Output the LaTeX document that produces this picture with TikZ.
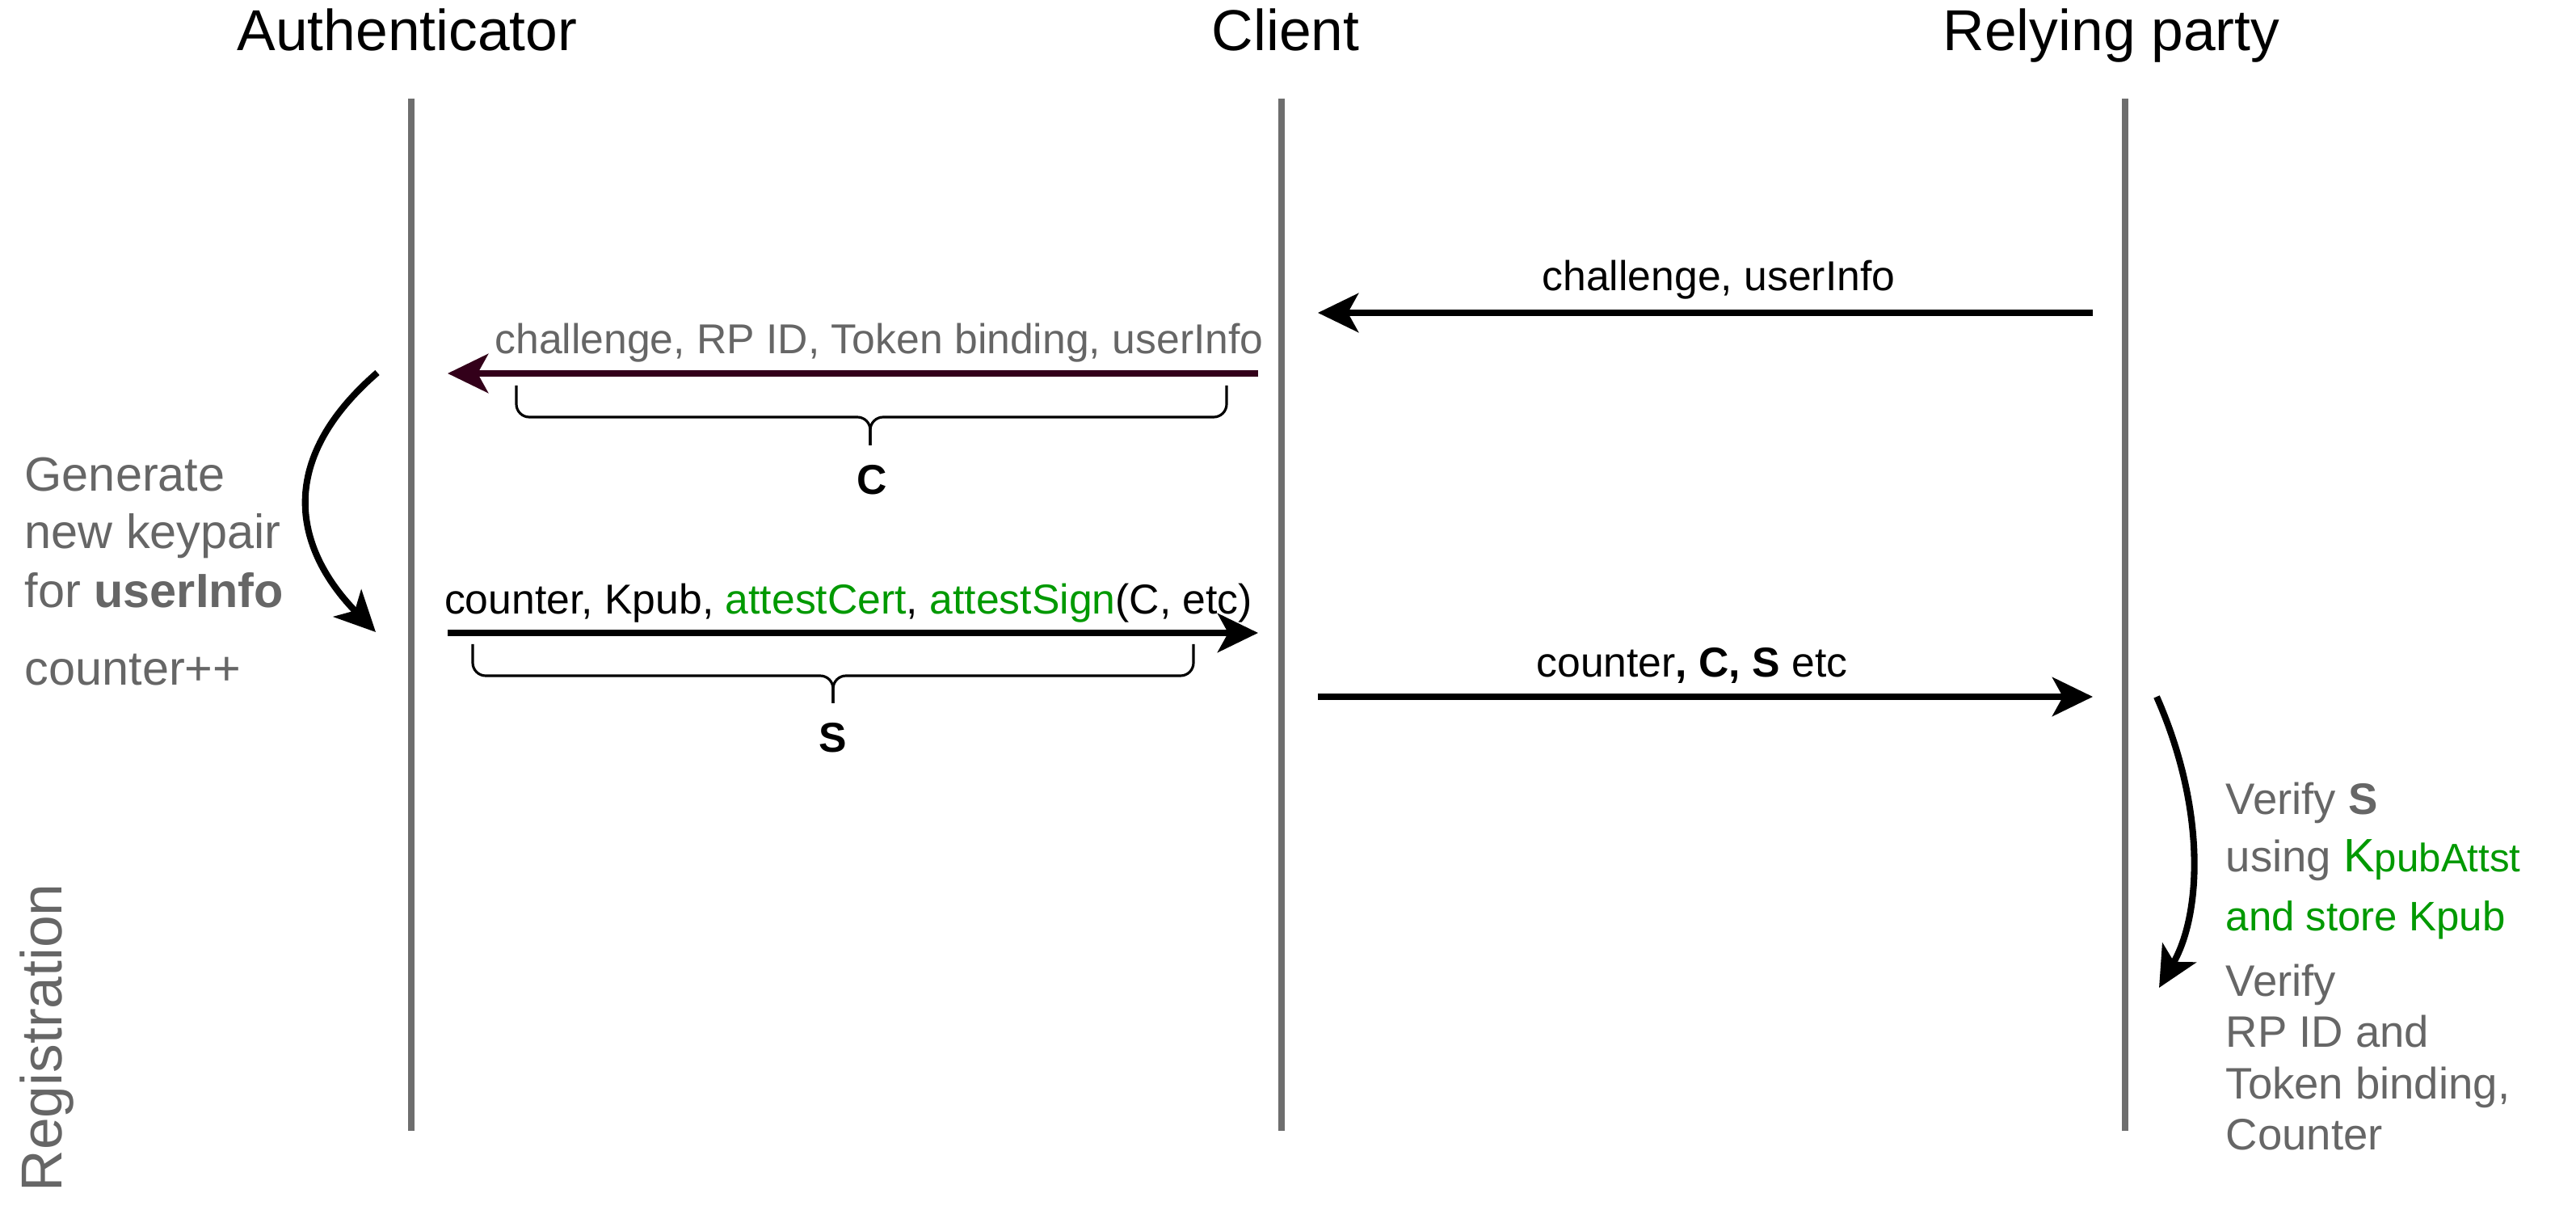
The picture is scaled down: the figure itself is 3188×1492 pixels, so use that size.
\documentclass[tikz,border=0pt]{standalone}
\usepackage{fontspec}
\setmainfont{Liberation Sans}
\usepackage{tikz}
\usetikzlibrary{positioning,arrows.meta}
\definecolor{noteGray}{HTML}{666666}
\definecolor{lineGray}{HTML}{6E6E6E}
\definecolor{attGreen}{HTML}{009900}
\definecolor{darkWine}{HTML}{33001A}
\newcommand{\headSize}{\fontsize{20.3}{24}\selectfont}
\newcommand{\msgSize}{\fontsize{14.7}{17.6}\selectfont}
\newcommand{\leftSize}{\fontsize{16.9}{20}\selectfont}
\newcommand{\rightSize}{\fontsize{15.5}{18.6}\selectfont}
\tikzset{head/.style={font=\headSize, inner sep=0pt, anchor=base},
  lifeline/.style={draw=lineGray, line width=2.2pt},
  msg/.style={line width=2.3pt, -{Stealth[length=0.5cm, width=0.48cm, inset=0.13cm]}},
  msglabel/.style={font=\msgSize, inner sep=0pt, anchor=base},
  brace/.style={line width=0.9pt, rounded corners=0.16cm},
  note/.style={text=noteGray, inner sep=0pt, anchor=base west}}

\begin{document}
\begin{tikzpicture}[x=0.01cm, y=-0.01cm]
\useasboundingbox (0,0) rectangle (3188,1492);

% participants and lifelines
\node[head] (auth) at (504,63) {Authenticator};
\node[head] (client) at (1591,63) {Client};
\node[head] (rp) at (2613,63) {Relying party};
\coordinate (authTop) at (509,122);
\coordinate (authBot) at (509,1399);
\coordinate (clientTop) at (1586,122);
\coordinate (clientBot) at (1586,1399);
\coordinate (rpTop) at (2630,122);
\coordinate (rpBot) at (2630,1399);
\draw[lifeline] (authTop) -- (authBot);
\draw[lifeline] (clientTop) -- (clientBot);
\draw[lifeline] (rpTop) -- (rpBot);

% messages
\coordinate (m1from) at (2590,387);
\coordinate (m1to) at (1631,387);
\draw[msg] (m1from) -- (m1to);
\node[msglabel] (m1label) at (2127,360) {challenge, userInfo};

\coordinate (m2from) at (1557,462);
\coordinate (m2to) at (554,462);
\draw[msg, darkWine] (m2from) -- (m2to);
\node[msglabel, text=noteGray] (m2label) at (1088,438) {challenge, RP ID, Token binding, userInfo};

\coordinate (m3from) at (554,783);
\coordinate (m3to) at (1557,783);
\draw[msg] (m3from) -- (m3to);
\node[msglabel] (m3label) at (1050,760) {counter, Kpub, \textcolor{attGreen}{attestCert}, \textcolor{attGreen}{attestSign}(C, etc)};

\coordinate (m4from) at (1631,862);
\coordinate (m4to) at (2590,862);
\draw[msg] (m4from) -- (m4to);
\node[msglabel] (m4label) at (2094,838) {counter\textbf{, C, S} etc};

% braces
\draw[brace] (639,477) -- (639,516) -- (1077,516) -- (1077,551);
\draw[brace] (1518,477) -- (1518,516) -- (1077,516) -- (1077,551);
\node[msglabel, font=\msgSize\bfseries] (cLabel) at (1079,612) {C};
\draw[brace] (585,797) -- (585,836) -- (1031,836) -- (1031,870);
\draw[brace] (1477,797) -- (1477,836) -- (1031,836) -- (1031,870);
\node[msglabel, font=\msgSize\bfseries] (sLabel) at (1031,931) {S};

% authenticator step
\coordinate (genFrom) at (467,461);
\coordinate (genTo) at (465,782);
\draw[msg] (genFrom) .. controls (330,580) and (375,690) .. (genTo);
\node[note, font=\leftSize] (gen1) at (30,608) {Generate};
\node[note, font=\leftSize] (gen2) at (30,679) {new keypair};
\node[note, font=\leftSize] (gen3) at (30,752) {for \textbf{userInfo}};
\node[note, font=\leftSize] (count) at (30,847) {counter++};

% relying party step
\coordinate (verFrom) at (2669,862);
\coordinate (verTo) at (2672,1222);
\draw[msg] (verFrom) .. controls (2730,1000) and (2725,1130) .. (verTo);
\node[note, font=\rightSize] (ver1) at (2754,1008) {Verify \textbf{S}};
\node[note, font=\rightSize] (ver2) at (2754,1078) {using \textcolor{attGreen}{{\fontsize{16.5}{19}\selectfont K}{\fontsize{14}{16}\selectfont pubAttst}}};
\node[note, font=\fontsize{14.5}{17}\selectfont, text=attGreen] (ver3) at (2754,1151) {and store Kpub};
\node[note, font=\rightSize] (chk1) at (2754,1232) {Verify};
\node[note, font=\rightSize] (chk2) at (2754,1295) {RP ID and};
\node[note, font=\rightSize] (chk3) at (2754,1359) {Token binding,};
\node[note, font=\rightSize] (chk4) at (2754,1422) {Counter};

% phase
\node[note, font=\headSize, rotate=90] (phase) at (77,1475) {Registration};
\end{tikzpicture}
\end{document}
